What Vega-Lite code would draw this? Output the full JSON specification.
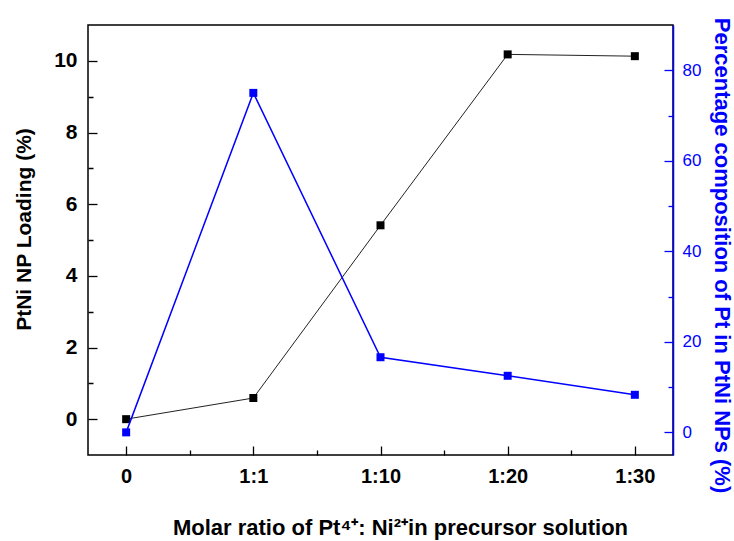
{
  "$schema": "https://vega.github.io/schema/vega-lite/v6.json",
  "width": 585,
  "height": 430,
  "autosize": "none",
  "padding": {"left": 88, "top": 25, "right": 61, "bottom": 86},
  "background": "white",
  "config": {
    "view": {"stroke": "black", "strokeWidth": 1.5},
    "axis": {
      "grid": false,
      "labelFont": "Liberation Sans",
      "titleFont": "Liberation Sans",
      "domainColor": "black",
      "domainWidth": 1.5,
      "tickColor": "black",
      "tickWidth": 1.3
    }
  },
  "data": {
    "values": [
      {"pos": 0, "ratio": "0", "loading": 0.0, "pt": 0.0},
      {"pos": 1, "ratio": "1:1", "loading": 0.59, "pt": 75.0},
      {"pos": 2, "ratio": "1:10", "loading": 5.41, "pt": 16.6},
      {"pos": 3, "ratio": "1:20", "loading": 10.18, "pt": 12.5},
      {"pos": 4, "ratio": "1:30", "loading": 10.13, "pt": 8.3}
    ]
  },
  "encoding": {
    "x": {
      "field": "pos",
      "type": "quantitative",
      "scale": {"domain": [-0.3, 4.3], "nice": false, "zero": false},
      "axis": {
        "values": [0, 0.5, 1, 1.5, 2, 2.5, 3, 3.5, 4],
        "labelExpr": "datum.value % 1 == 0 ? ['0','1:1','1:10','1:20','1:30'][datum.value] : ''",
        "tickSize": 9,
        "offset": -9,
        "domain": false,
        "tickDash": {"condition": {"test": "datum.value % 1 != 0", "value": [0, 4, 5, 30]}, "value": [30, 1]},
        "labelPadding": 11,
        "labelFontSize": 20,
        "labelFontWeight": "bold",
        "labelColor": "black",
        "labelFlush": false,
        "title": "Molar ratio of Pt⁴⁺: Ni²⁺in precursor solution",
        "titleFontSize": 22,
        "titleFontWeight": "bold",
        "titleColor": "black",
        "titlePadding": 31,
        "titleX": 312
      }
    }
  },
  "layer": [
    {
      "encoding": {
        "y": {
          "field": "loading",
          "type": "quantitative",
          "scale": {"domain": [-1, 11], "nice": false, "zero": false},
          "axis": {
            "orient": "left",
            "values": [0, 1, 2, 3, 4, 5, 6, 7, 8, 9, 10],
            "labelExpr": "datum.value % 2 == 0 ? datum.label : ''",
            "tickSize": 9,
            "offset": -9,
            "domain": false,
            "tickDash": {"condition": {"test": "datum.value % 2 != 0", "value": [0, 4, 5, 30]}, "value": [30, 1]},
            "labelPadding": 11,
            "labelFontSize": 21,
            "labelFontWeight": "bold",
            "labelColor": "black",
            "title": "PtNi NP Loading (%)",
            "titleFontSize": 21,
            "titleFontWeight": "bold",
            "titleColor": "black",
            "titlePadding": 19,
            "titleY": 204
          }
        }
      },
      "layer": [
        {"mark": {"type": "line", "color": "#222222", "strokeWidth": 1}},
        {"mark": {"type": "square", "size": 64, "color": "black", "opacity": 1}}
      ]
    },
    {
      "encoding": {
        "y": {
          "field": "pt",
          "type": "quantitative",
          "scale": {"domain": [-5, 90], "nice": false, "zero": false},
          "axis": {
            "orient": "right",
            "values": [0, 10, 20, 30, 40, 50, 60, 70, 80],
            "labelExpr": "datum.value % 20 == 0 ? datum.label : ''",
            "tickSize": -9,
            "tickDash": {"condition": {"test": "datum.value % 20 != 0", "value": [5, 30]}, "value": [30, 1]},
            "labelPadding": 18,
            "labelFontSize": 17,
            "labelColor": "#0000ff",
            "domainColor": "#0000ff",
            "tickColor": "#0000ff",
            "title": "Percentage composition of Pt in PtNi NPs (%)",
            "titleFontSize": 22,
            "titleFontWeight": "bold",
            "titleColor": "#0000ff",
            "titlePadding": 9,
            "titleY": 230
          }
        }
      },
      "layer": [
        {"mark": {"type": "line", "color": "#0000ff", "strokeWidth": 1.5}},
        {"mark": {"type": "square", "size": 64, "color": "#0000ff", "opacity": 1}}
      ]
    }
  ],
  "resolve": {"scale": {"y": "independent"}}
}
